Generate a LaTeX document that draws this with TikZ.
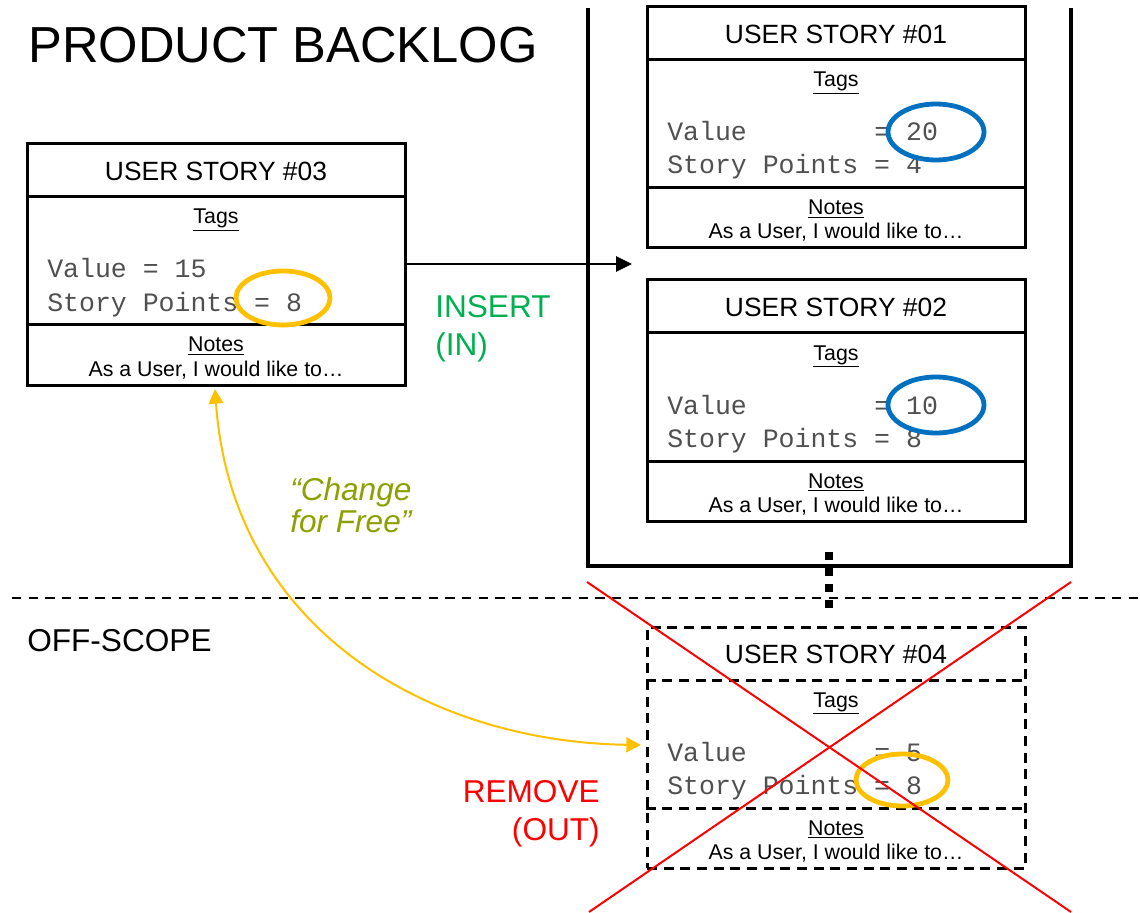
\documentclass[tikz,border=0pt]{standalone}
\usepackage{fontspec}
\setmainfont{Liberation Sans}
\setsansfont{Liberation Sans}
\setmonofont{Liberation Mono}
\usetikzlibrary{arrows.meta}
\definecolor{gold}{RGB}{255,192,0}
\definecolor{bluering}{RGB}{0,112,192}
\definecolor{insertgreen}{RGB}{0,176,80}
\definecolor{olivetext}{RGB}{140,160,0}
\definecolor{monogray}{RGB}{80,80,80}
\tikzset{
  boxline/.style={line width=2.25pt},
  dashbox/.style={dash pattern=on 7.5pt off 5pt},
  titletext/.style={font=\fontsize{19.8}{22}\selectfont, anchor=base},
  smalltext/.style={font=\fontsize{16}{18}\selectfont, anchor=base},
  monotext/.style={font=\ttfamily\fontsize{19.9}{22}\selectfont, text=monogray, anchor=base west, inner sep=0pt},
  bigtext/.style={font=\fontsize{23.7}{28}\selectfont, inner sep=0pt},
  ring/.style={line width=3.6pt},
}
% #1 name, #2 left, #3 top, #4 number, #5 value line, #6 story points line, #7 extra style
\newcommand\storycard[7]{%
  \begin{scope}[shift={(#2,#3)}]
    \node[boxline,#7,draw,minimum width=283.5pt,minimum height=180.75pt,inner sep=0pt] (#1) at (189,120.5) {};
    \draw[boxline,#7] (#1.west |- 0,53) -- (#1.east |- 0,53);
    \draw[boxline,#7] (#1.west |- 0,181) -- (#1.east |- 0,181);
    \node[titletext] (#1-title) at (189,36.5) {USER STORY \##4};
    \node[smalltext] (#1-tags) at (189,80) {\underline{Tags}};
    \node[monotext] (#1-value) at (20,134) {#5};
    \node[monotext] (#1-sp) at (20,167) {#6};
    \node[smalltext] (#1-notes) at (189,208) {\underline{Notes}};
    \node[smalltext] (#1-text) at (189,232) {As a User, I would like to…};
  \end{scope}}
\newcommand\alignedvalue[1]{\rlap{Value}\hphantom{Story Points }= #1}
\begin{document}
\begin{tikzpicture}[x=0.75pt,y=-0.75pt]
\useasboundingbox (0,0) rectangle (1140,913);
% title texts
\node[font=\fontsize{38}{40}\selectfont, anchor=base west, inner sep=0pt] (title) at (28,63) {PRODUCT BACKLOG};
\node[bigtext, anchor=base west] (offscope) at (27,651) {OFF-SCOPE};
% scope separator
\draw[line width=1.5pt, dash pattern=on 7pt off 5.5pt] (12,598) coordinate (sepL) -- (1140,598) coordinate (sepR);
% backlog container
\draw[line width=3.4pt] (588,8) coordinate (cTL) -- (588,566) -- (1071,566) -- (1071,8) coordinate (cTR);
\draw[line width=6pt, dash pattern=on 6pt off 6pt] (829,552) coordinate (dotA) -- (829,608) coordinate (dotB);
% cards
\storycard{s1}{647}{7}{01}{\alignedvalue{20}}{Story Points = 4}{}
\storycard{s2}{647}{280}{02}{\alignedvalue{10}}{Story Points = 8}{}
\storycard{s3}{27}{144}{03}{Value = 15}{Story Points = 8}{}
\storycard{s4}{647}{627}{04}{\alignedvalue{5}}{Story Points = 8}{dashbox}
% highlight rings
\draw[ring, bluering] (936,132) ellipse [x radius=48, y radius=28];
\draw[ring, bluering] (936,405) ellipse [x radius=48, y radius=28];
\draw[ring, gold] (283,298) ellipse [x radius=47, y radius=27];
\draw[ring, gold] (902,780) ellipse [x radius=46, y radius=26];
% insert arrow
\coordinate (insTip) at (632,264);
\draw[line width=1.5pt, -{Triangle[length=12pt,width=11.5pt]}] (s3.east |- insTip) -- (insTip);
\node[bigtext, text=insertgreen, anchor=base west] (insert) at (435,317) {INSERT};
\node[bigtext, text=insertgreen, anchor=base west] (insertin) at (435,355) {(IN)};
% change for free
\coordinate (chgA) at (215,389);
\coordinate (chgB) at (641,745);
\draw[line width=1.5pt, gold, {Triangle[length=11pt,width=11pt]}-{Triangle[length=11pt,width=11pt]}] (chgA) .. controls (232,630) and (430,742) .. (chgB);
\node[bigtext, text=olivetext, anchor=base west, font=\fontsize{23.7}{28}\selectfont\itshape] (chg1) at (290,500) {“Change};
\node[bigtext, text=olivetext, anchor=base west, font=\fontsize{23.7}{28}\selectfont\itshape] (chg2) at (290,532) {for Free”};
% remove
\draw[line width=1.5pt, red] (587,582) coordinate (xA) -- (1071,912) coordinate (xB);
\draw[line width=1.5pt, red] (1071,582) coordinate (xC) -- (589,912) coordinate (xD);
\node[bigtext, text=red, anchor=base east] (remove) at (600,802) {REMOVE};
\node[bigtext, text=red, anchor=base east] (removeout) at (600,840) {(OUT)};
\end{tikzpicture}
\end{document}
